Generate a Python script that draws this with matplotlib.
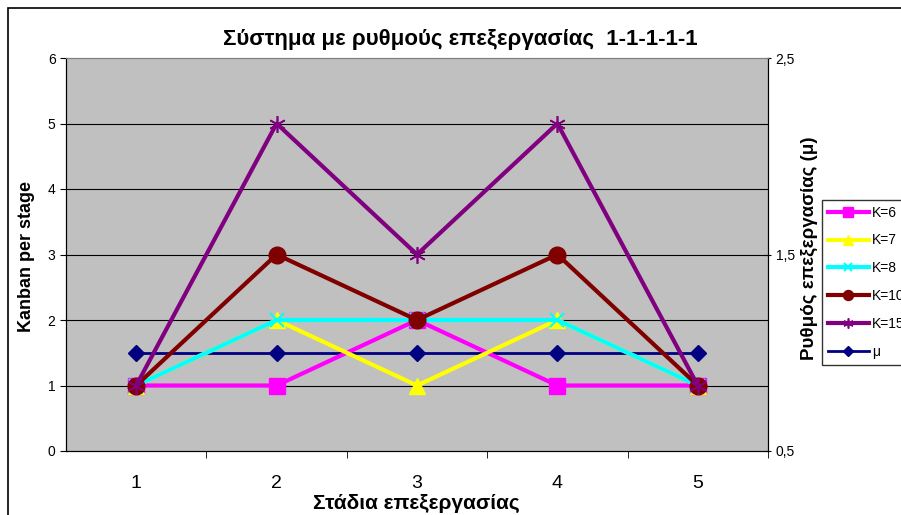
import matplotlib
matplotlib.use("Agg")
import matplotlib.pyplot as plt
from matplotlib.patches import Rectangle

stages = [1, 2, 3, 4, 5]
k6 = [1, 1, 2, 1, 1]
k7 = [1, 2, 1, 2, 1]
k8 = [1, 2, 2, 2, 1]
k10 = [1, 3, 2, 3, 1]
k15 = [1, 5, 3, 5, 1]
mu = [1, 1, 1, 1, 1]

plt.rcParams['font.family'] = ['Liberation Sans', 'DejaVu Sans']

W, H = 901, 515
fig = plt.figure(figsize=(W / 100, H / 100), dpi=100)
fig.patch.set_facecolor('white')

# chart border (cut off at the right and bottom)
fig.patches.append(Rectangle((8 / W, -0.1), 1.0, 1.1 - 8 / H, transform=fig.transFigure,
                             fill=False, edgecolor='black', linewidth=1.2))

ax = fig.add_axes([66 / W, 1 - 451 / H, (768 - 66) / W, (451 - 58) / H])
ax2 = ax.twinx()
ax.set_zorder(ax2.get_zorder() + 1)
ax.patch.set_visible(False)
ax2.patch.set_visible(True)
ax2.patch.set_facecolor('#c0c0c0')

ax2.plot(stages, mu, color='#000080', lw=2, marker='D', ms=8, label='μ', zorder=2)

ax.plot(stages, k6, color='#ff00ff', lw=3, marker='s', ms=11, label='K=6')
ax.plot(stages, k7, color='#ffff00', lw=3, marker='^', ms=12, label='K=7')
ax.plot(stages, k8, color='#00ffff', lw=3, marker='x', ms=10, mew=1.5, label='K=8')
ax.plot(stages, k10, color='#800000', lw=3, marker='o', ms=12, label='K=10')
ax.plot(stages, k15, color='#800080', lw=3, marker=(6, 2, 0), ms=12, mew=1.2, label='K=15')

ax.set_xlim(0.5, 5.5)
ax.set_ylim(0, 6)
ax.set_yticks(range(0, 7))
ax2.set_ylim(0.5, 2.5)
ax2.set_yticks([0.5, 1.5, 2.5])
ax2.set_yticklabels(['0,5', '1,5', '2,5'], fontsize=10)

ax.set_xticks(stages)
ax.set_xticklabels([str(s) for s in stages], fontsize=14)
ax.set_xticks([1.5, 2.5, 3.5, 4.5, 5.5], minor=True)
ax.tick_params(axis='x', which='major', length=0, pad=17)
ax.tick_params(axis='x', which='minor', length=5, direction='out')
ax.tick_params(axis='y', labelsize=10, length=4, direction='out')
ax2.tick_params(axis='y', length=4, direction='inout')

for y in range(1, 6):
    ax.axhline(y, color='black', lw=0.8, zorder=0.5)

ax.spines['top'].set_color('#808080')
ax2.spines['top'].set_color('#808080')

fig.text(460 / W, 1 - 40 / H, 'Σύστημα με ρυθμούς επεξεργασίας  1-1-1-1-1',
         ha='center', va='center', fontsize=16, fontweight='bold')
fig.text(416 / W, 1 - 503 / H, 'Στάδια επεξεργασίας',
         ha='center', va='center', fontsize=15, fontweight='bold')
fig.text(27 / W, 1 - 257 / H, 'Kanban per stage', rotation=90,
         ha='center', va='center', fontsize=13, fontweight='bold')
fig.text(809 / W, 1 - 248 / H, 'Ρυθμός επεξεργασίας (μ)', rotation=90,
         ha='center', va='center', fontsize=13.5, fontweight='bold')

h1, l1 = ax.get_legend_handles_labels()
h2, l2 = ax2.get_legend_handles_labels()
leg = fig.legend(h1 + h2, l1 + l2, loc='upper left', bbox_to_anchor=(822 / W, 1 - 200 / H),
                 fontsize=10, frameon=True, fancybox=False, edgecolor='black',
                 handlelength=3.0, markerscale=0.6, labelspacing=1.0, borderpad=0.4,
                 handletextpad=0.2, borderaxespad=0)
leg.get_frame().set_linewidth(1.0)

fig.savefig('out.png', dpi=100)
